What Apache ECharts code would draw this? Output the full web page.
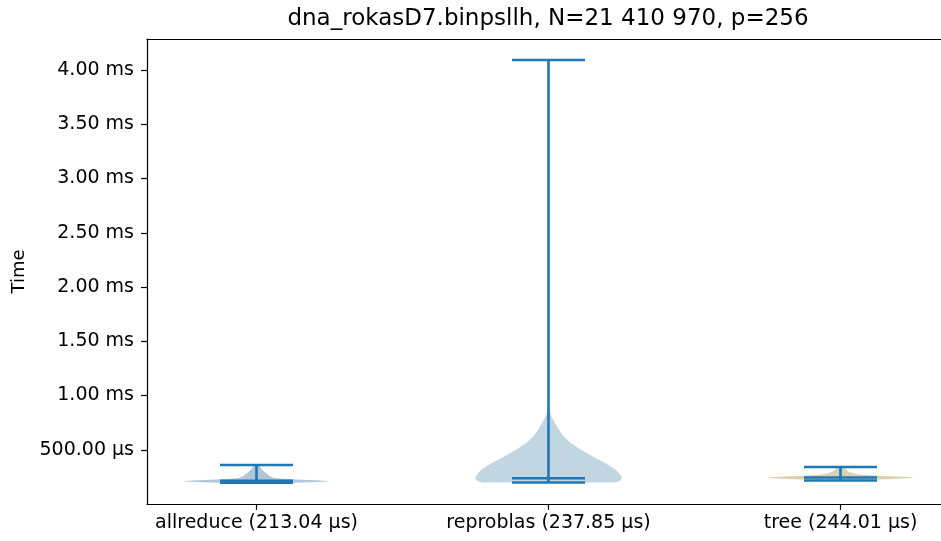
<!DOCTYPE html>
<html>
<head>
<meta charset="utf-8">
<script src="https://cdn.jsdelivr.net/npm/echarts@6/dist/echarts.min.js"></script>
<style>
  html, body { margin: 0; padding: 0; background: #fff; }
  #chart { width: 941px; height: 541px; }
</style>
</head>
<body>
<div id="chart"></div>
<script>
// violin summary per method (values in µs)
const categories = ['allreduce', 'reproblas', 'tree'];
const medians = [213.04, 237.85, 244.01];
const mins = [197, 198, 216];
const maxs = [359, 4092, 341];

// density profiles (relative width, 1 = widest)
const allreduceValues  = [197, 202, 207, 212, 218, 225, 232, 240, 255, 270, 290, 313, 340, 359];
const allreduceDensity = [0.5, 0.85, 1.0, 0.97, 0.8, 0.55, 0.35, 0.24, 0.18, 0.16, 0.12, 0.08, 0.05, 0.04];

const reproblasValues  = [198, 210, 230, 251, 280, 313, 375, 435, 497, 559, 620, 682, 744, 804, 866, 1000, 1500, 2000, 3000, 4092];
const reproblasDensity = [0.9, 0.97, 1.0, 1.0, 0.97, 0.925, 0.78, 0.61, 0.45, 0.31, 0.21, 0.144, 0.09, 0.04, 0.012, 0.005, 0.003, 0.002, 0.001, 0.0005];

const treeValues  = [216, 225, 233, 240, 244, 249, 255, 262, 270, 280, 295, 310, 325, 341];
const treeDensity = [0.3, 0.55, 0.8, 0.97, 1.0, 0.92, 0.7, 0.45, 0.28, 0.18, 0.12, 0.08, 0.06, 0.05];

const yTicks = [500, 1000, 1500, 2000, 2500, 3000, 3500, 4000];
const xTicks = [1, 2, 3];

const profiles = [
  { values: allreduceValues, density: allreduceDensity },
  { values: reproblasValues, density: reproblasDensity },
  { values: treeValues, density: treeDensity }
];
const bodyColors = ['#b3c6d7', '#c2d6e2', '#d9d2b2'];
const lineColor = '#1f77b4';
const font = 'DejaVu Sans';

function fmtTime(v) {
  return v >= 1000 ? (v / 1000).toFixed(2) + ' ms' : v.toFixed(2) + ' µs';
}

function renderViolin(params, api) {
  const i = params.dataIndex;
  const pos = api.value(0);
  const p = profiles[i];
  const half = 0.25;
  const pts = [];
  for (let k = 0; k < p.values.length; k++) {
    pts.push(api.coord([pos + p.density[k] * half, p.values[k]]));
  }
  for (let k = p.values.length - 1; k >= 0; k--) {
    pts.push(api.coord([pos - p.density[k] * half, p.values[k]]));
  }
  const capHalf = 0.125;
  const seg = (xa, va, xb, vb) => {
    const a = api.coord([xa, va]);
    const b = api.coord([xb, vb]);
    return {
      type: 'line',
      shape: { x1: a[0], y1: a[1], x2: b[0], y2: b[1] },
      style: { stroke: lineColor, lineWidth: 2.6 }
    };
  };
  const lo = api.value(1), hi = api.value(2), med = api.value(3);
  return {
    type: 'group',
    children: [
      { type: 'polygon', shape: { points: pts }, style: { fill: bodyColors[i] } },
      seg(pos, lo, pos, hi),
      seg(pos - capHalf, hi, pos + capHalf, hi),
      seg(pos - capHalf, lo, pos + capHalf, lo),
      seg(pos - capHalf, med, pos + capHalf, med)
    ]
  };
}

const chart = echarts.init(document.getElementById('chart'), null, { renderer: 'canvas' });

const spine = { show: true, lineStyle: { color: '#000', width: 1.2 } };

const option = {
  animation: false,
  backgroundColor: '#fff',
  title: {
    text: 'dna_rokasD7.binpsllh, N=21 410 970, p=256',
    left: 543,
    top: 3,
    textAlign: 'center',
    textStyle: { fontFamily: font, fontSize: 23, fontWeight: 'normal', color: '#000' }
  },
  grid: {
    left: 147, top: 39, width: 803, height: 465,
    outerBoundsMode: 'none',
    containLabel: false
  },
  xAxis: [{
    type: 'value',
    min: 0.625,
    max: 3.375,
    splitLine: { show: false },
    axisLine: spine,
    axisTick: { show: true, length: 6, lineStyle: { color: '#000', width: 1.2 }, customValues: xTicks },
    axisLabel: {
      customValues: xTicks,
      margin: 10,
      fontFamily: font,
      fontSize: 19,
      color: '#000',
      formatter: v => {
        const i = Math.round(v) - 1;
        return categories[i] + ' (' + medians[i].toFixed(2) + ' µs)';
      }
    }
  }, {
    // top spine only
    type: 'value',
    position: 'top',
    min: 0.625,
    max: 3.375,
    splitLine: { show: false },
    axisLine: spine,
    axisTick: { show: false },
    axisLabel: { show: false }
  }],
  yAxis: {
    type: 'value',
    min: 0,
    max: 4286,
    name: 'Time',
    nameLocation: 'middle',
    nameGap: 118,
    nameTextStyle: { fontFamily: font, fontSize: 18, color: '#000' },
    splitLine: { show: false },
    axisLine: spine,
    axisTick: { show: true, length: 6, lineStyle: { color: '#000', width: 1.2 }, customValues: yTicks },
    axisLabel: {
      customValues: yTicks,
      margin: 13,
      fontFamily: font,
      fontSize: 19,
      color: '#000',
      formatter: v => fmtTime(v)
    }
  },
  series: [{
    type: 'custom',
    renderItem: renderViolin,
    encode: { x: 0, y: [1, 2, 3] },
    data: categories.map((c, i) => [i + 1, mins[i], maxs[i], medians[i]])
  }]
};

chart.setOption(option);
</script>
</body>
</html>
